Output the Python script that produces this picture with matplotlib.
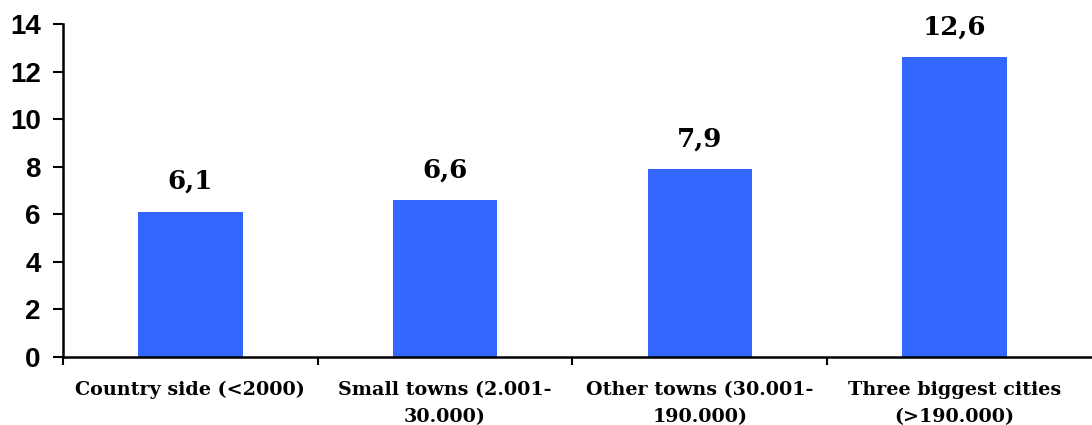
import matplotlib.pyplot as plt
import numpy as np

categories = ['Country side (<2000)', 'Small towns (2.001-\n30.000)',
              'Other towns (30.001-\n190.000)', 'Three biggest cities\n(>190.000)']
values = [6.1, 6.6, 7.9, 12.6]
value_labels = ['6,1', '6,6', '7,9', '12,6']

fig = plt.figure(figsize=(10.92, 4.25), dpi=100)
ax = fig.add_axes([0.0577, 0.16, 0.9423, 0.7835])

x = np.arange(len(categories))
ax.bar(x, values, width=0.41, color='#3366FF')

for xi, v, lab in zip(x, values, value_labels):
    ax.text(xi, v + 0.75, lab, ha='center', va='bottom', fontsize=18.8,
            fontweight='bold', family='DejaVu Serif')

ax.set_xlim(-0.5, 3.54)
ax.set_ylim(0, 14)
ax.set_yticks(range(0, 15, 2))
ax.set_yticklabels([str(t) for t in range(0, 15, 2)], fontsize=20,
                   fontweight='bold', family='Liberation Sans')

ax.set_xticks(x)
ax.set_xticklabels(categories, fontsize=13.8, fontweight='bold',
                   family='DejaVu Serif', linespacing=1.65)
ax.set_xticks(np.arange(-0.5, 3, 1), minor=True)
ax.tick_params(axis='x', which='major', length=0, pad=17)
ax.tick_params(axis='x', which='minor', length=6, width=1.5, direction='out')
ax.tick_params(axis='y', length=7, width=1.5, direction='out', pad=9)

for s in ['top', 'right']:
    ax.spines[s].set_visible(False)
for s in ['left', 'bottom']:
    ax.spines[s].set_linewidth(1.8)

plt.savefig('out.png', dpi=100)
